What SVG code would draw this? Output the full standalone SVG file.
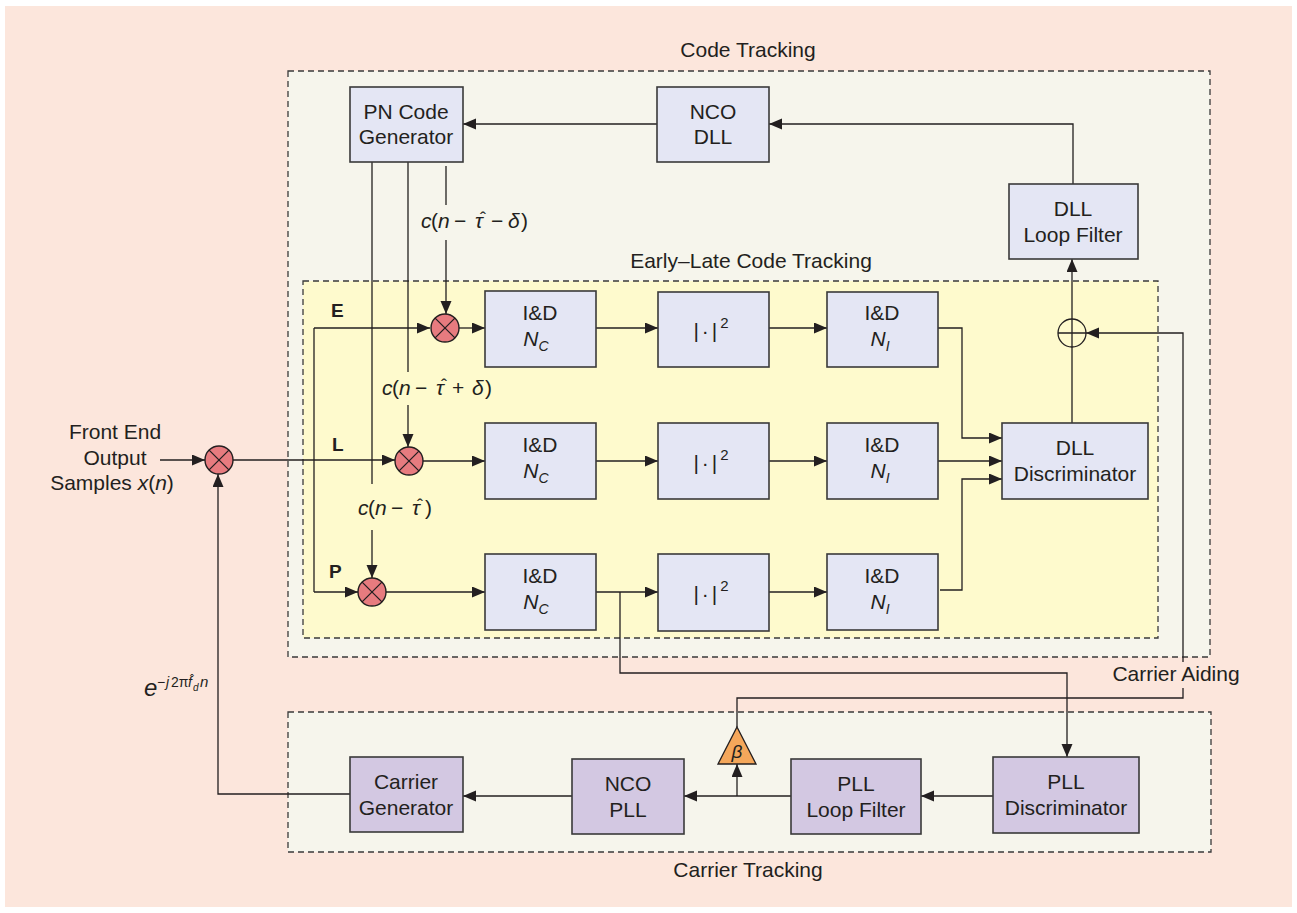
<svg xmlns="http://www.w3.org/2000/svg" width="1297" height="913" viewBox="0 0 1297 913">
  <defs>
    <marker id="arrow" markerUnits="userSpaceOnUse" markerWidth="14" markerHeight="12" refX="13" refY="5.5" orient="auto">
      <path d="M0,0 L13,5.5 L0,11 z" fill="#231f20"/>
    </marker>
    <style>
      text { font-family: "Liberation Sans", Arial, sans-serif; fill: #231f20; }
      .lbl { font-size: 21px; text-anchor: middle; }
      .title { font-size: 21px; text-anchor: middle; }
      .math { font-size: 21px; }
      .hat { font-size: 18px; text-anchor: middle; }
      .it { font-style: italic; }
      .bold { font-weight: bold; font-size: 19px; }
      .dash { stroke: #3a3a3a; stroke-width: 1.3; stroke-dasharray: 6 4; }
      .code { fill: #e4e6f4; stroke: #3a3a3a; stroke-width: 1.6; }
      .carrier { fill: #d3c8e2; stroke: #3a3a3a; stroke-width: 1.6; }
      .mult { fill: #e77b7f; stroke: #231f20; stroke-width: 1.4; }
      .wire { fill: none; stroke: #231f20; stroke-width: 1.3; }
      .arr { marker-end: url(#arrow); }
    </style>
  </defs>

  <!-- background and tracking regions -->
  <rect x="5" y="6" width="1287" height="901" fill="#fce6dc"/>
  <rect id="code-tracking" x="288" y="71" width="922" height="586" fill="#f6f5ec" class="dash"/>
  <rect id="early-late" x="303" y="281" width="855" height="357" fill="#fefacd" class="dash"/>
  <rect id="carrier-tracking" x="288" y="712" width="923" height="140" fill="#f6f5ec" class="dash"/>
  <text class="title" x="748" y="57">Code Tracking</text>
  <text class="title" x="751" y="268">Early–Late Code Tracking</text>
  <text class="title" x="748" y="877">Carrier Tracking</text>

  <!-- connectors -->
  <g id="connectors">
    <!-- input path -->
    <line class="wire arr" x1="160" y1="460" x2="205" y2="460"/>
    <line class="wire arr" x1="233" y1="460" x2="395" y2="460"/>
    <line class="wire" x1="314" y1="328" x2="314" y2="592"/>
    <line class="wire arr" x1="314" y1="328" x2="430" y2="328"/>
    <line class="wire arr" x1="314" y1="592" x2="358" y2="592"/>

    <!-- code replicas -->
    <line class="wire" x1="446" y1="166" x2="446" y2="205"/>
    <line class="wire arr" x1="446" y1="240" x2="446" y2="314"/>
    <line class="wire" x1="408" y1="162" x2="408" y2="372"/>
    <line class="wire arr" x1="408" y1="405" x2="408" y2="447"/>
    <line class="wire" x1="372" y1="162" x2="372" y2="484"/>
    <line class="wire arr" x1="372" y1="530" x2="372" y2="578"/>

    <!-- correlator rows -->
    <line class="wire arr" x1="459" y1="328" x2="485" y2="328"/>
    <line class="wire arr" x1="596" y1="328" x2="658" y2="328"/>
    <line class="wire arr" x1="769" y1="328" x2="827" y2="328"/>
    <line class="wire arr" x1="423" y1="461" x2="485" y2="461"/>
    <line class="wire arr" x1="596" y1="461" x2="658" y2="461"/>
    <line class="wire arr" x1="769" y1="461" x2="827" y2="461"/>
    <line class="wire arr" x1="386" y1="592" x2="485" y2="592"/>
    <line class="wire arr" x1="596" y1="592" x2="658" y2="592"/>
    <line class="wire arr" x1="769" y1="592" x2="827" y2="592"/>

    <!-- into the DLL discriminator -->
    <polyline class="wire arr" points="938,328 962,328 962,438 1002,438"/>
    <line class="wire arr" x1="938" y1="461" x2="1002" y2="461"/>
    <polyline class="wire arr" points="940,590 962,590 962,479 1002,479"/>

    <!-- DLL loop -->
    <line class="wire" x1="1072" y1="423" x2="1072" y2="347"/>
    <line class="wire arr" x1="1072" y1="319" x2="1072" y2="259"/>
    <polyline class="wire arr" points="1073,184 1073,124 769,124"/>
    <line class="wire arr" x1="657" y1="124" x2="463" y2="124"/>

    <!-- prompt branch to the PLL discriminator -->
    <polyline class="wire arr" points="620,592 620,673 1067,673 1067,757"/>

    <!-- carrier aiding -->
    <polyline class="wire" points="737,727 737,698 1183,698 1183,688"/>
    <polyline class="wire arr" points="1183,662 1183,333 1086,333"/>

    <!-- PLL loop -->
    <line class="wire arr" x1="993" y1="796" x2="921" y2="796"/>
    <line class="wire arr" x1="791" y1="796" x2="684" y2="796"/>
    <line class="wire arr" x1="737" y1="796" x2="737" y2="764"/>
    <line class="wire arr" x1="572" y1="796" x2="463" y2="796"/>
    <polyline class="wire arr" points="350,794 218,794 218,474"/>
  </g>

  <!-- code tracking blocks -->
  <g id="pn-code-generator">
    <rect class="code" x="350" y="87" width="113" height="75"/>
    <text class="lbl" x="406" y="119">PN Code</text>
    <text class="lbl" x="406" y="144">Generator</text>
  </g>
  <g id="nco-dll">
    <rect class="code" x="657" y="87" width="112" height="75"/>
    <text class="lbl" x="713" y="119">NCO</text>
    <text class="lbl" x="713" y="144">DLL</text>
  </g>
  <g id="dll-loop-filter">
    <rect class="code" x="1009" y="184" width="129" height="75"/>
    <text class="lbl" x="1073" y="216">DLL</text>
    <text class="lbl" x="1073" y="242">Loop Filter</text>
  </g>

  <!-- replica labels: tau carries a hat drawn as a separate accent glyph -->
  <g id="label-early-code">
    <text class="math" y="228"><tspan class="it" x="421">c</tspan><tspan x="431">(</tspan><tspan class="it" x="438">n</tspan><tspan x="454">−</tspan><tspan class="it" x="475">τ</tspan><tspan x="491">−</tspan><tspan class="it" x="508">δ</tspan><tspan x="521">)</tspan></text>
    <text class="hat" x="483" y="225">ˆ</text>
  </g>
  <g id="label-late-code">
    <text class="math" y="395"><tspan class="it" x="382">c</tspan><tspan x="392">(</tspan><tspan class="it" x="399">n</tspan><tspan x="415">−</tspan><tspan class="it" x="436">τ</tspan><tspan x="452">+</tspan><tspan class="it" x="472">δ</tspan><tspan x="485">)</tspan></text>
    <text class="hat" x="444" y="392">ˆ</text>
  </g>
  <g id="label-prompt-code">
    <text class="math" y="515"><tspan class="it" x="358">c</tspan><tspan x="368">(</tspan><tspan class="it" x="375">n</tspan><tspan x="391">−</tspan><tspan class="it" x="412">τ</tspan><tspan x="425">)</tspan></text>
    <text class="hat" x="420" y="512">ˆ</text>
  </g>
  <text class="bold" x="331" y="317">E</text>
  <text class="bold" x="332" y="451">L</text>
  <text class="bold" x="329" y="578">P</text>

  <!-- input -->
  <g id="front-end-input">
    <text class="lbl" x="115" y="439">Front End</text>
    <text class="lbl" x="115" y="465">Output</text>
    <text class="lbl" x="112" y="490">Samples <tspan class="it">x</tspan>(<tspan class="it">n</tspan>)</text>
  </g>
  <g id="carrier-wipeoff">
    <circle class="mult" cx="219" cy="460" r="14"/>
    <path class="wire" d="M209.1,450.1 L228.9,469.9 M228.9,450.1 L209.1,469.9"/>
  </g>
  <g id="label-carrier-replica">
    <text class="it" x="144" y="696" font-size="24">e</text>
    <text font-size="14" y="687"><tspan x="157">−</tspan><tspan class="it" x="166">j</tspan><tspan x="171">2π</tspan><tspan class="it" x="188">f</tspan><tspan class="it" x="193" y="691" font-size="10">d</tspan><tspan class="it" x="200" y="687" font-size="15">n</tspan></text>
    <text x="192" y="684" font-size="12" text-anchor="middle">ˆ</text>
  </g>

  <!-- correlator multipliers -->
  <g id="mult-early">
    <circle class="mult" cx="445" cy="328" r="14"/>
    <path class="wire" d="M435.1,318.1 L454.9,337.9 M454.9,318.1 L435.1,337.9"/>
  </g>
  <g id="mult-late">
    <circle class="mult" cx="409" cy="461" r="14"/>
    <path class="wire" d="M399.1,451.1 L418.9,470.9 M418.9,451.1 L399.1,470.9"/>
  </g>
  <g id="mult-prompt">
    <circle class="mult" cx="372" cy="592" r="14"/>
    <path class="wire" d="M362.1,582.1 L381.9,601.9 M381.9,582.1 L362.1,601.9"/>
  </g>

  <!-- integrate and dump, squaring, non-coherent sums -->
  <g id="id-nc-early">
    <rect class="code" x="485" y="291" width="111" height="76"/>
    <text class="lbl" x="540" y="320">I&amp;D</text>
    <text class="lbl it" x="536" y="346">N<tspan font-size="14" dy="5">C</tspan></text>
  </g>
  <g id="square-early">
    <rect class="code" x="658" y="292" width="111" height="75"/>
    <text class="lbl" x="711" y="338" font-size="23" letter-spacing="3">|·|<tspan font-size="15" dy="-10" letter-spacing="0">2</tspan></text>
  </g>
  <g id="id-ni-early">
    <rect class="code" x="827" y="292" width="111" height="75"/>
    <text class="lbl" x="882" y="320">I&amp;D</text>
    <text class="lbl it" x="880" y="346">N<tspan font-size="14" dy="5">I</tspan></text>
  </g>

  <g id="id-nc-late">
    <rect class="code" x="485" y="423" width="111" height="76"/>
    <text class="lbl" x="540" y="452">I&amp;D</text>
    <text class="lbl it" x="536" y="478">N<tspan font-size="14" dy="5">C</tspan></text>
  </g>
  <g id="square-late">
    <rect class="code" x="658" y="423" width="111" height="76"/>
    <text class="lbl" x="711" y="470" font-size="23" letter-spacing="3">|·|<tspan font-size="15" dy="-10" letter-spacing="0">2</tspan></text>
  </g>
  <g id="id-ni-late">
    <rect class="code" x="827" y="423" width="111" height="76"/>
    <text class="lbl" x="882" y="452">I&amp;D</text>
    <text class="lbl it" x="880" y="478">N<tspan font-size="14" dy="5">I</tspan></text>
  </g>

  <g id="id-nc-prompt">
    <rect class="code" x="485" y="554" width="111" height="76"/>
    <text class="lbl" x="540" y="583">I&amp;D</text>
    <text class="lbl it" x="536" y="609">N<tspan font-size="14" dy="5">C</tspan></text>
  </g>
  <g id="square-prompt">
    <rect class="code" x="658" y="554" width="111" height="77"/>
    <text class="lbl" x="711" y="601" font-size="23" letter-spacing="3">|·|<tspan font-size="15" dy="-10" letter-spacing="0">2</tspan></text>
  </g>
  <g id="id-ni-prompt">
    <rect class="code" x="827" y="554" width="111" height="76"/>
    <text class="lbl" x="882" y="583">I&amp;D</text>
    <text class="lbl it" x="880" y="609">N<tspan font-size="14" dy="5">I</tspan></text>
  </g>

  <g id="dll-discriminator">
    <rect class="code" x="1002" y="423" width="146" height="76"/>
    <text class="lbl" x="1075" y="455">DLL</text>
    <text class="lbl" x="1075" y="481">Discriminator</text>
  </g>
  <g id="aiding-sum">
    <circle cx="1072" cy="333" r="14" fill="none" stroke="#231f20" stroke-width="1.3"/>
    <path class="wire" d="M1058,333 L1086,333 M1072,319 L1072,347"/>
  </g>
  <text x="1176" y="681" font-size="21" text-anchor="middle">Carrier Aiding</text>

  <!-- carrier tracking blocks -->
  <g id="carrier-generator">
    <rect class="carrier" x="350" y="757" width="113" height="75"/>
    <text class="lbl" x="406" y="789">Carrier</text>
    <text class="lbl" x="406" y="815">Generator</text>
  </g>
  <g id="nco-pll">
    <rect class="carrier" x="572" y="759" width="112" height="75"/>
    <text class="lbl" x="628" y="791">NCO</text>
    <text class="lbl" x="628" y="817">PLL</text>
  </g>
  <g id="aiding-gain">
    <path d="M737,727 L756,764 L718,764 z" fill="#f5a75b" stroke="#231f20" stroke-width="1.3"/>
    <text class="it" x="737" y="758" font-size="19" text-anchor="middle">β</text>
  </g>
  <g id="pll-loop-filter">
    <rect class="carrier" x="791" y="759" width="130" height="75"/>
    <text class="lbl" x="856" y="791">PLL</text>
    <text class="lbl" x="856" y="817">Loop Filter</text>
  </g>
  <g id="pll-discriminator">
    <rect class="carrier" x="993" y="757" width="146" height="76"/>
    <text class="lbl" x="1066" y="789">PLL</text>
    <text class="lbl" x="1066" y="815">Discriminator</text>
  </g>
</svg>
